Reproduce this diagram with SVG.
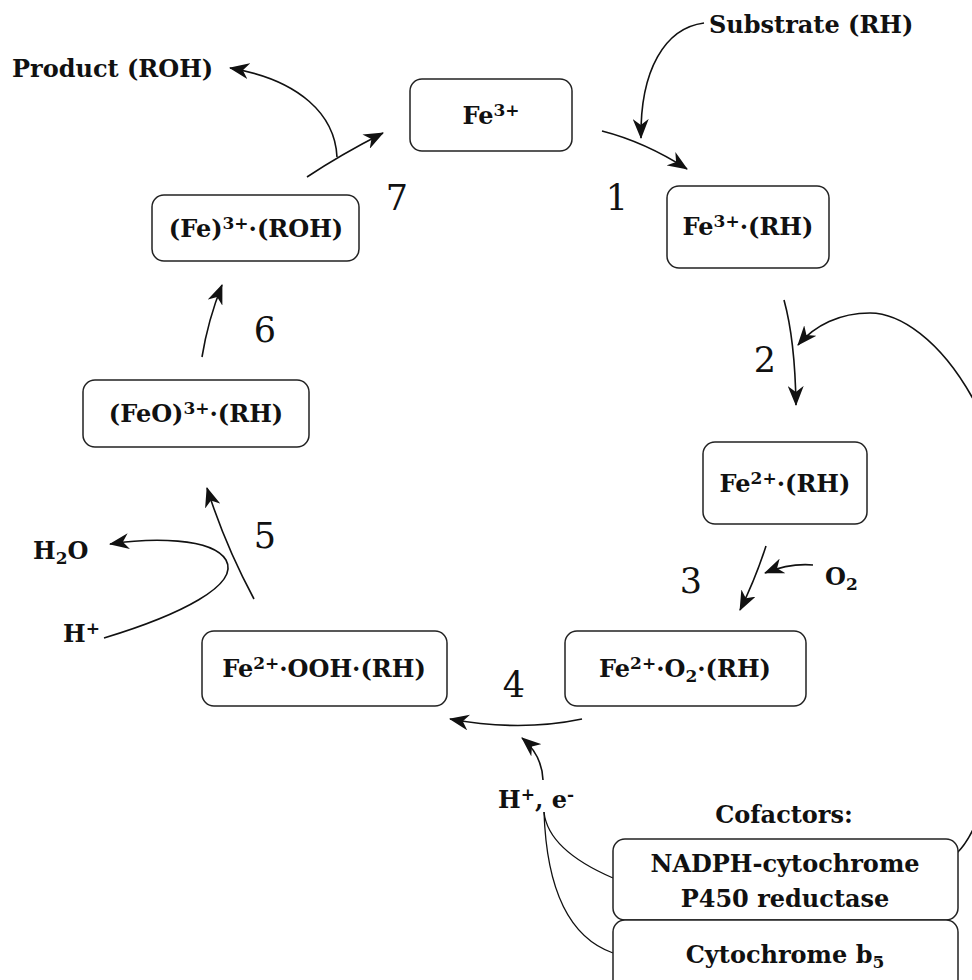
<svg xmlns="http://www.w3.org/2000/svg" width="972" height="980" viewBox="0 0 972 980">
<style>
.box{fill:#fff;stroke:#222;stroke-width:1.5}
.lbl{font-family:"DejaVu Serif","Liberation Serif",serif;font-weight:bold;font-size:24px;fill:#111}
.mid{text-anchor:middle}
.sup{font-size:17px}
.num{font-family:"DejaVu Serif","Liberation Serif",serif;font-size:35px;fill:#111;text-anchor:middle}
.arr{fill:none;stroke:#111;stroke-width:1.6;marker-end:url(#ah)}
.ln{fill:none;stroke:#111;stroke-width:1.3}
</style>
<defs>
<marker id="ah" markerUnits="userSpaceOnUse" viewBox="0 0 20 16" markerWidth="20" markerHeight="16" refX="19" refY="8" orient="auto">
<path d="M0,0 L20,8 L0,16 L6,8 Z" fill="#111"/>
</marker>
</defs>

<g id="connectors">
<path class="arr" d="M307 177 Q340 155 383 133"/>
<path class="arr" d="M337 157 C335 115 300 80 230 68"/>
<path class="arr" d="M704 23 C665 28 640 70 641 138"/>
<path class="arr" d="M602 131 Q645 142 687 169"/>
<path class="arr" d="M784 300 Q795 340 796 405"/>
<path class="arr" d="M957 853 C1020 790 1020 480 972 397 C940 340 900 313 870 313 C840 313 815 325 798 345"/>
<path class="arr" d="M766 546 Q755 580 740 610"/>
<path class="arr" d="M813 565 Q790 563 765 573"/>
<path class="arr" d="M582 719 Q520 732 450 719"/>
<path class="arr" d="M543 780 Q542 755 522 738"/>
<path class="ln" d="M544 812 Q548 850 613 878"/>
<path class="ln" d="M544 812 Q548 930 613 953"/>
<path class="arr" d="M254 599 Q225 545 207 488"/>
<path class="arr" d="M104 638 C180 615 240 585 226 560 C212 537 150 538 110 544"/>
<path class="arr" d="M202 357 Q208 320 222 285"/>
</g>

<g id="n-fe3">
<rect class="box" x="410" y="79" width="162" height="72" rx="12"/>
<text class="lbl mid" x="491" y="124">Fe<tspan class="sup" dy="-8">3+</tspan></text>
</g>
<g id="n-fe3rh">
<rect class="box" x="667" y="186" width="162" height="82" rx="12"/>
<text class="lbl mid" x="748" y="235">Fe<tspan class="sup" dy="-8">3+</tspan><tspan dy="8">·(RH)</tspan></text>
</g>
<g id="n-fe2rh">
<rect class="box" x="703" y="442" width="164" height="82" rx="12"/>
<text class="lbl mid" x="785" y="492">Fe<tspan class="sup" dy="-8">2+</tspan><tspan dy="8">·(RH)</tspan></text>
</g>
<g id="n-fe2o2rh">
<rect class="box" x="565" y="631" width="241" height="75" rx="12"/>
<text class="lbl mid" x="685" y="677">Fe<tspan class="sup" dy="-8">2+</tspan><tspan dy="8">·O</tspan><tspan class="sup" dy="5">2</tspan><tspan dy="-5">·(RH)</tspan></text>
</g>
<g id="n-fe2oohrh">
<rect class="box" x="202" y="631" width="245" height="75" rx="12"/>
<text class="lbl mid" x="324" y="677">Fe<tspan class="sup" dy="-8">2+</tspan><tspan dy="8">·OOH·(RH)</tspan></text>
</g>
<g id="n-feorh">
<rect class="box" x="83" y="380" width="226" height="67" rx="12"/>
<text class="lbl mid" x="196" y="422">(FeO)<tspan class="sup" dy="-8">3+</tspan><tspan dy="8">·(RH)</tspan></text>
</g>
<g id="n-feroh">
<rect class="box" x="152" y="195" width="207" height="66" rx="12"/>
<text class="lbl mid" x="256" y="237">(Fe)<tspan class="sup" dy="-8">3+</tspan><tspan dy="8">·(ROH)</tspan></text>
</g>

<g id="labels">
<text class="lbl" x="12" y="77">Product (ROH)</text>
<text class="lbl" x="709" y="33">Substrate (RH)</text>
<text class="lbl" x="825" y="585">O<tspan class="sup" dy="5">2</tspan></text>
<text class="lbl" x="33" y="559">H<tspan class="sup" dy="5">2</tspan><tspan dy="-5">O</tspan></text>
<text class="lbl" x="63" y="642">H<tspan class="sup" dy="-8">+</tspan></text>
<text class="lbl" x="498" y="808">H<tspan class="sup" dy="-8">+</tspan><tspan dy="8">, e</tspan><tspan class="sup" dy="-8">-</tspan></text>
<text class="num" x="397" y="210">7</text>
<text class="num" x="617" y="210">1</text>
<text class="num" x="765" y="372">2</text>
<text class="num" x="691" y="593">3</text>
<text class="num" x="514" y="697">4</text>
<text class="num" x="265" y="548">5</text>
<text class="num" x="265" y="342">6</text>
</g>

<g id="cofactors">
<text class="lbl mid" x="784" y="823">Cofactors:</text>
</g>
<g id="n-nadph">
<rect class="box" x="613" y="839" width="345" height="81" rx="12"/>
<text class="lbl mid" x="785" y="872">NADPH-cytochrome</text>
<text class="lbl mid" x="785" y="907">P450 reductase</text>
</g>
<g id="n-cytb5">
<rect class="box" x="613" y="920" width="345" height="80" rx="12"/>
<text class="lbl mid" x="785" y="963">Cytochrome b<tspan class="sup" dy="5">5</tspan></text>
</g>
</svg>
